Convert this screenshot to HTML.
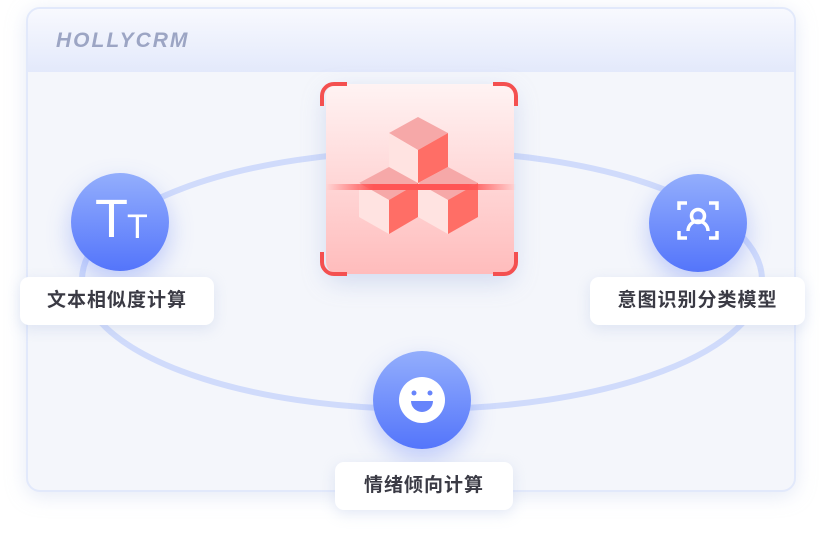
<!DOCTYPE html>
<html><head><meta charset="utf-8"><style>
body{margin:0;width:826px;height:554px;background:#fff;position:relative;overflow:hidden;font-family:"Liberation Sans","Noto Sans CJK SC",sans-serif}
.box{position:absolute;left:26px;top:7px;width:766px;height:481px;border:2px solid #e2e9fb;border-radius:14px;background:#f4f6fb;box-shadow:0 4px 20px rgba(180,195,230,.35);overflow:hidden}
.hdr{position:absolute;left:0;top:0;right:0;height:63px;background:linear-gradient(#f8f9fe,#e3e9fb)}
.logo{position:absolute;left:28px;top:20px;font:italic bold 21px "Liberation Sans",sans-serif;color:#9ca5c4;letter-spacing:2px}
.lbl{position:absolute;background:#fff;border-radius:9px;box-shadow:0 4px 14px rgba(170,185,225,.3);font-size:19px;font-weight:bold;color:#3a3a44;text-align:center;line-height:48px;height:48px;letter-spacing:1px}
.c{position:absolute;width:98px;height:98px;border-radius:50%;background:linear-gradient(#93aefc,#5475fb);box-shadow:0 10px 24px rgba(90,120,250,.35)}
</style></head><body>
<div class="box"><div class="hdr"><div class="logo">HOLLYCRM</div></div></div>
<svg style="position:absolute;left:0;top:0" width="826" height="554">
<ellipse cx="422" cy="280" rx="340" ry="129" fill="none" stroke="#d0dbfb" stroke-width="6"/>
</svg>
<div style="position:absolute;left:326px;top:84px;width:188px;height:190px;border-radius:12px;background:linear-gradient(#fff3f3,#ffbcbc);box-shadow:0 8px 24px rgba(150,170,220,.35)"></div>
<svg style="position:absolute;left:320px;top:80px" width="200" height="200">
<g fill="none" stroke="#f45050" stroke-width="4">
<path d="M2 26 V16 A12 12 0 0 1 14 4 H27"/><path d="M173 4 H184 A12 12 0 0 1 196 16 V26"/>
<path d="M2 172 V182 A12 12 0 0 0 14 194 H27"/><path d="M173 194 H184 A12 12 0 0 0 196 182 V172"/>
</g>
<g>
<polygon points="69,53 98,37 128,53 98,70" fill="#f6a8a8"/><polygon points="69,53 98,70 98,103 69,87" fill="#ffe3e1"/><polygon points="98,70 128,53 128,87 98,103" fill="#ff6e66"/>
<polygon points="39,103 69,87 98,103 69,120" fill="#f6a8a8"/><polygon points="39,103 69,120 69,154 39,137" fill="#ffe3e1"/><polygon points="69,120 98,103 98,137 69,154" fill="#ff6e66"/>
<polygon points="98,103 128,87 158,103 128,120" fill="#f6a8a8"/><polygon points="98,103 128,120 128,154 98,137" fill="#ffe3e1"/><polygon points="128,120 158,103 158,137 128,154" fill="#ff6e66"/>
</g>
<defs><linearGradient id="ln"><stop offset="0" stop-color="#f55" stop-opacity="0"/><stop offset=".25" stop-color="#f55"/><stop offset=".75" stop-color="#f55"/><stop offset="1" stop-color="#f55" stop-opacity="0"/></linearGradient></defs>
<rect x="6" y="104" width="190" height="6" fill="url(#ln)"/>
</svg>
<div class="c" style="left:71px;top:173px"><span style="position:absolute;left:24px;top:16px;color:#fff;font-size:54px;line-height:60px">T</span><span style="position:absolute;left:56px;top:34px;color:#fff;font-size:34px;line-height:40px">T</span></div>
<div class="c" style="left:649px;top:174px"><svg width="98" height="98"><g fill="none" stroke="#fff" stroke-width="3.5"><path d="M30 36v-7h8M60 29h8v7M30 57v7h8M60 64h8v-7"/><circle cx="49" cy="42" r="6.5"/><path d="M39 57a10 10 0 0 1 20 0"/></g></svg></div>
<div class="c" style="left:373px;top:351px"><svg width="98" height="98"><circle cx="49" cy="49" r="23" fill="#fff"/><circle cx="41" cy="42" r="2.5" fill="#6784fb"/><circle cx="57" cy="42" r="2.5" fill="#6784fb"/><path d="M38 50h22a11 11 0 0 1-22 0z" fill="#6784fb"/></svg></div>
<div class="lbl" style="left:20px;top:277px;width:194px">文本相似度计算</div>
<div class="lbl" style="left:590px;top:277px;width:215px">意图识别分类模型</div>
<div class="lbl" style="left:335px;top:462px;width:178px">情绪倾向计算</div>
</body></html>
